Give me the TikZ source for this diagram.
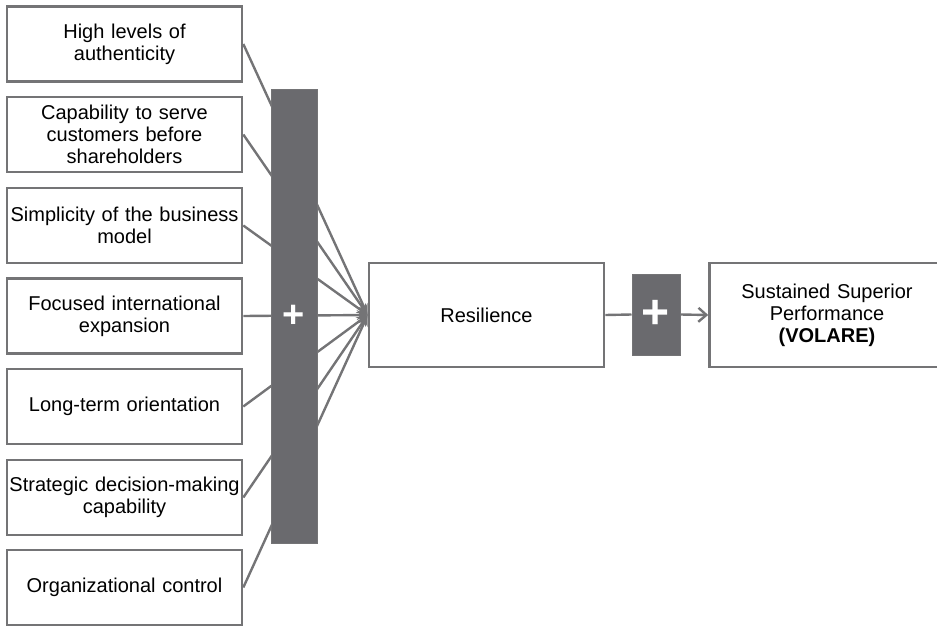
\documentclass[tikz,border=0pt]{standalone}
\usepackage{fontspec}
\setmainfont{Liberation Sans}
\usetikzlibrary{arrows.meta}
\definecolor{boxgray}{RGB}{116,116,118}
\definecolor{bargray}{RGB}{106,106,110}
\tikzset{
  factor/.style={draw=boxgray, line width=2.6pt, fill=white, minimum width=235pt, minimum height=75pt,
    text width=233pt, align=center, inner sep=0pt, font=\fontsize{20}{22}\selectfont},
  link/.style={draw=boxgray, line width=2.4pt, -{Stealth[length=11pt,width=10pt]}},
  plusbox/.style={fill=bargray, draw=boxgray, line width=1pt, text=white, inner sep=0pt,
    font=\fontsize{38}{38}\selectfont\bfseries}
}
\begin{document}
\begin{tikzpicture}[x=1pt,y=-1pt]
		    \clip (0,0) rectangle (937,626);
		    \node[factor] (FA) at (124.5,44) {High levels of\\authenticity};
		    \node[factor] (FB) at (124.5,134.5) {Capability to serve\\customers before\\shareholders};
		    \node[factor] (FC) at (124.5,225.5) {Simplicity of the business\\model};
		    \node[factor] (FD) at (124.5,316) {Focused international\\expansion};
		    \node[factor] (FE) at (124.5,406.5) {Long-term orientation};
		    \node[factor] (FF) at (124.5,497.5) {Strategic decision-making\\capability};
		    \node[factor] (FG) at (124.5,587.5) {Organizational control};
		    \node[factor, minimum height=104pt] (RE) at (486.5,315) {Resilience};
		    \node[factor, minimum height=104pt] (SP) at (827,315) {Sustained Superior\\Performance\\\textbf{(VOLARE)}};
		    
		    \draw[link] (FA.east)--(RE.west);
		    \draw[link] (FB.east)--(RE.west);
		    \draw[link] (FC.east)--(RE.west);
		    \draw[link] (FD.east)--(RE.west);
		    \draw[link] (FE.east)--(RE.west);
		    \draw[link] (FF.east)--(RE.west);
		    \draw[link] (FG.east)--(RE.west);
		    
		    \node[plusbox, minimum width=46pt, minimum height=454pt] (PB) at (294,316) {+};
		    \node[plusbox, minimum width=48pt, minimum height=81pt, font=\fontsize{48}{48}\selectfont\bfseries] (PS) at (656,314.5) {+};
		    
		    \draw[boxgray, line width=2.4pt] (RE.east)--(PS.west);
		    \draw[boxgray, line width=2.4pt, -{Straight Barb[length=8pt,width=14pt]}] (PS.east)--(SP.west);
		    \end{tikzpicture}
\end{document}
